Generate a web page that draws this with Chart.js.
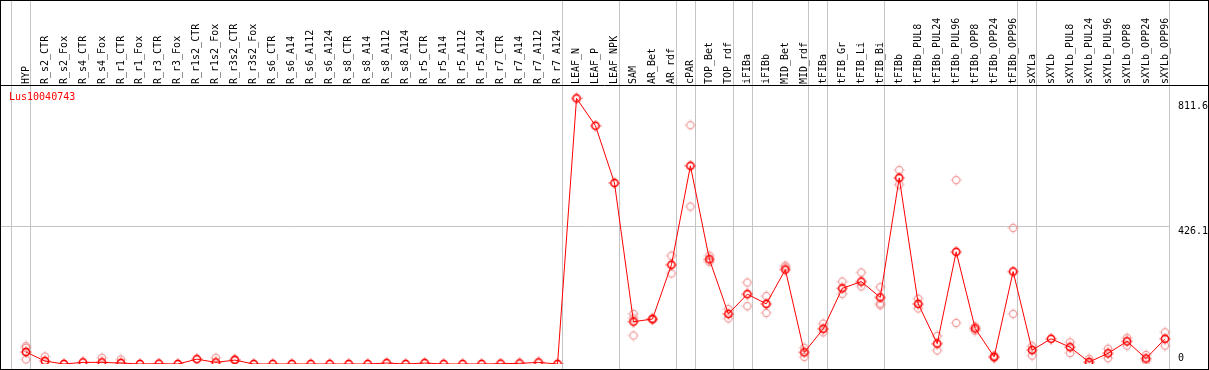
<!DOCTYPE html>
<html>
<head>
<meta charset="utf-8">
<script src="https://cdn.jsdelivr.net/npm/chart.js@4.4.0/dist/chart.umd.min.js"></script>
<style>
    html, body { margin: 0; padding: 0; background: #fff; }
</style>
</head>
<body>
<canvas id="expression-chart" width="1209" height="370"></canvas>
<script>
// sample names, in plot order
const sampleLabels = [
    'HYP', 'R_s2_CTR', 'R_s2_Fox', 'R_s4_CTR', 'R_s4_Fox', 'R_r1_CTR', 'R_r1_Fox', 'R_r3_CTR', 'R_r3_Fox',
    'R_r1s2_CTR', 'R_r1s2_Fox', 'R_r3s2_CTR', 'R_r3s2_Fox', 'R_s6_CTR', 'R_s6_A14', 'R_s6_A112', 'R_s6_A124',
    'R_s8_CTR', 'R_s8_A14', 'R_s8_A112', 'R_s8_A124', 'R_r5_CTR', 'R_r5_A14', 'R_r5_A112', 'R_r5_A124',
    'R_r7_CTR', 'R_r7_A14', 'R_r7_A112', 'R_r7_A124', 'LEAF_N', 'LEAF_P', 'LEAF_NPK', 'SAM', 'AR_Bet', 'AR_rdf',
    'cPAR', 'TOP_Bet', 'TOP_rdf', 'iFIBa', 'iFIBb', 'MID_Bet', 'MID_rdf', 'tFIBa', 'tFIB_Gr', 'tFIB_Li', 'tFIB_Bi',
    'tFIBb', 'tFIBb_PUL8', 'tFIBb_PUL24', 'tFIBb_PUL96', 'tFIBb_OPP8', 'tFIBb_OPP24', 'tFIBb_OPP96', 'sXYLa',
    'sXYLb', 'sXYLb_PUL8', 'sXYLb_PUL24', 'sXYLb_PUL96', 'sXYLb_OPP8', 'sXYLb_OPP24', 'sXYLb_OPP96'
];

// mean expression per sample
const meanValues = [
    37, 9, 0, 5, 5, 3, 0, 1, 0,
    15, 5, 12, 0, 0, 0, 0, 0,
    0, 0, 3, 0, 3, 0, 0, 0,
    1, 2, 5, 0, 822, 737, 560, 131, 139, 307,
    613, 324, 155, 216, 186, 292, 36, 109, 234, 255, 206,
    576, 186, 63, 347, 110, 22, 286, 43,
    78, 52, 6, 33, 70, 17, 78
];

// single replicates (light markers)
const repHigh = [
    55, 23, null, null, 19, 14, null, null, null,
    null, 19, 15, null, null, null, null, null,
    null, null, null, null, null, null, null, null,
    null, null, null, null, null, null, null, 155, 141, 335,
    739, 335, 170, 252, 210, 304, 50, 125, 255, 283, 238,
    600, 202, 87, 569, 116, 26, 421, 55,
    null, 67, 16, 47, 81, 28, 98
];
const repLow = [
    14, null, null, null, null, null, null, null, null,
    null, null, null, null, null, null, null, null,
    null, null, null, null, null, null, null, null,
    null, null, null, null, null, null, null, 88, 137, 280,
    487, 316, 141, 179, 158, 299, 22, 98, 217, 240, 187,
    555, 172, 42, 127, 103, 18, 155, 26,
    null, 34, 0, 18, 57, 10, 57
];
const repExtra = [
    50, null, null, null, null, null, null, null, null,
    null, null, null, null, null, null, null, null,
    null, null, null, null, null, null, null, null,
    null, null, null, null, null, null, null, 141, null, null,
    null, null, null, null, null, null, null, null, null, null, 182,
    null, null, null, null, null, null, null, null,
    null, null, null, null, null, null, null
];

const yTickValues = [0, 426.1, 811.6];
// index of the last sample in each tissue group (-1 = left edge)
const groupEnds = [-1, 0, 28, 31, 34, 35, 37, 38, 41, 42, 45, 52, 53, 60];
const geneName = 'Lus10040743';

const monoFont = "'DejaVu Sans Mono', monospace";

// ring marker with small ticks, like the original plot
function makeMarker(color, ringWidth) {
    const c = document.createElement('canvas');
    c.width = 12;
    c.height = 12;
    const g = c.getContext('2d');
    g.strokeStyle = color;
    g.lineWidth = ringWidth;
    g.beginPath();
    g.arc(6, 6, 3.6, 0, Math.PI * 2);
    g.stroke();
    g.lineWidth = 1;
    g.beginPath();
    g.moveTo(6, 0.5); g.lineTo(6, 1.6);
    g.moveTo(6, 10.4); g.lineTo(6, 11.5);
    g.moveTo(0.5, 6); g.lineTo(1.6, 6);
    g.moveTo(10.4, 6); g.lineTo(11.5, 6);
    g.stroke();
    return c;
}

const meanMarker = makeMarker('#ff0000', 1.6);
const repMarker = makeMarker('rgba(236, 130, 130, 0.8)', 1.2);

const decorPlugin = {
    id: 'decor',
    beforeDatasetsDraw(chart) {
        const { ctx, scales } = chart;
        const x = scales.x;
        const y = scales.y;
        const step = x.getPixelForValue(1) - x.getPixelForValue(0);
        ctx.save();
        ctx.strokeStyle = '#c4c4c4';
        ctx.lineWidth = 1;
        // horizontal grid line at the middle tick
        const gy = Math.round(y.getPixelForValue(yTickValues[1])) + 0.5;
        ctx.beginPath();
        ctx.moveTo(1, gy);
        ctx.lineTo(Math.round(x.getPixelForValue(60) + step * 0.22) + 0.5, gy);
        ctx.stroke();
        // group separators
        groupEnds.forEach(i => {
            const px = Math.round(x.getPixelForValue(0) + (i + 0.22) * step) + 0.5;
            ctx.beginPath();
            ctx.moveTo(px, 1);
            ctx.lineTo(px, chart.height - 1);
            ctx.stroke();
        });
        ctx.restore();
    },
    afterDraw(chart) {
        const { ctx, scales } = chart;
        const y = scales.y;
        ctx.save();
        ctx.strokeStyle = '#000';
        ctx.lineWidth = 1;
        ctx.strokeRect(0.5, 0.5, chart.width - 1, chart.height - 1);
        ctx.beginPath();
        ctx.moveTo(0, 85.5);
        ctx.lineTo(chart.width, 85.5);
        ctx.stroke();

        ctx.font = '10px ' + monoFont;
        ctx.fillStyle = '#000';
        ctx.textAlign = 'left';
        ctx.textBaseline = 'middle';
        yTickValues.forEach(v => {
            const py = y.getPixelForValue(v);
            const ty = v === 0 ? py - 6 : py + 5;
            ctx.fillText(String(v), 1178, ty);
        });

        ctx.fillStyle = '#ff0000';
        ctx.fillText(geneName, 9, 97);
        ctx.restore();
    }
};

function repDataset(values) {
    return {
        data: values,
        showLine: false,
        pointStyle: repMarker,
        pointRadius: 5,
        borderColor: 'rgba(236, 130, 130, 0.8)',
        backgroundColor: 'rgba(0,0,0,0)',
        order: 2
    };
}

const ctx = document.getElementById('expression-chart').getContext('2d');

new Chart(ctx, {
    type: 'line',
    data: {
        labels: sampleLabels,
        datasets: [
            repDataset(repHigh),
            repDataset(repLow),
            repDataset(repExtra),
            {
                data: meanValues,
                borderColor: '#ff0000',
                borderWidth: 1,
                pointStyle: meanMarker,
                pointRadius: 5,
                backgroundColor: 'rgba(0,0,0,0)',
                tension: 0,
                order: 1
            }
        ]
    },
    options: {
        responsive: false,
        animation: false,
        devicePixelRatio: 1,
        layout: {
            padding: { top: 0, bottom: 2, left: 16.5, right: 34.5 }
        },
        scales: {
            x: {
                position: 'top',
                offset: true,
                grid: { display: false, drawTicks: false },
                border: { display: false },
                ticks: {
                    autoSkip: false,
                    minRotation: 90,
                    maxRotation: 90,
                    padding: 3,
                    labelOffset: 12,
                    color: '#000',
                    font: { family: monoFont, size: 10 }
                },
                afterFit: (scale) => { scale.height = 87; }
            },
            y: {
                display: false,
                min: 0,
                max: 857
            }
        },
        plugins: {
            legend: { display: false },
            tooltip: { enabled: false }
        }
    },
    plugins: [decorPlugin]
});
</script>
</body>
</html>
